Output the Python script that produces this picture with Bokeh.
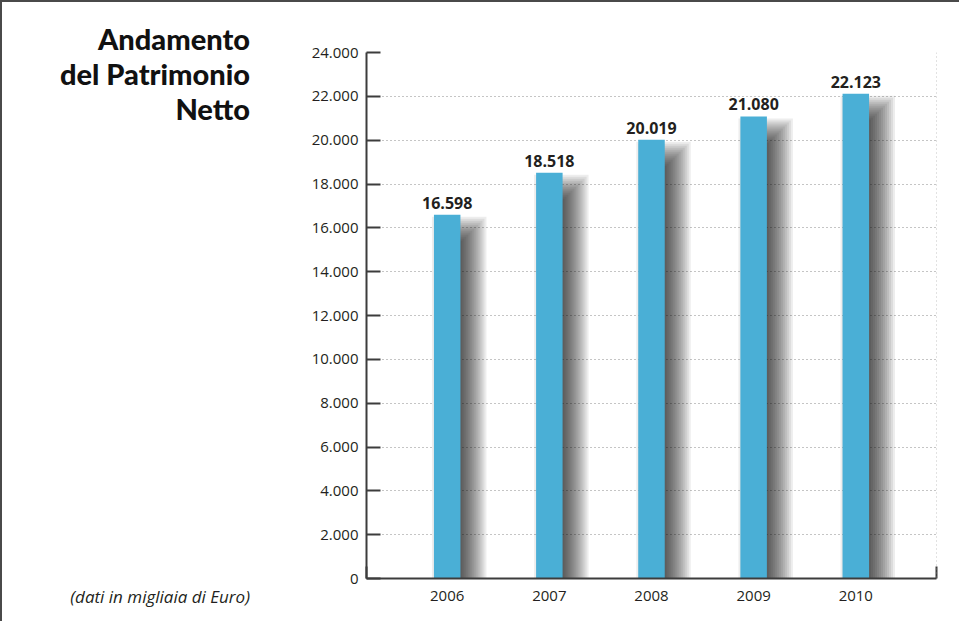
from bokeh.plotting import figure
from bokeh.layouts import row
from bokeh.models import Range1d, FixedTicker, Span, LabelSet, ColumnDataSource, Div
from bokeh.core.properties import value
from bokeh.embed import file_html
from bokeh.resources import INLINE

# ---- data ----
years = [2006, 2007, 2008, 2009, 2010]
year_labels = ["2006", "2007", "2008", "2009", "2010"]
patrimonio = [16598, 18518, 20019, 21080, 22123]
value_labels = ["16.598", "18.518", "20.019", "21.080", "22.123"]
y_ticks = [0, 2000, 4000, 6000, 8000, 10000, 12000, 14000, 16000, 18000, 20000, 22000, 24000]
y_tick_labels = ["0", "2.000", "4.000", "6.000", "8.000", "10.000", "12.000",
                 "14.000", "16.000", "18.000", "20.000", "22.000", "24.000"]
title_lines = ["Andamento", "del Patrimonio", "Netto"]
note_text = "(dati in migliaia di Euro)"

# ---- layout ----
H = 619
LW = 260                  # left panel (title + note)
W = 957 - LW              # chart figure
ML, MR, MT, MB = 364 - LW, 23, 50, 43
X0, X1 = 2005.21, 2010.79
Y0, Y1 = 0, 24000
FW, FH = W - ML - MR, H - MT - MB
xpx = FW / (X1 - X0)      # px per x unit
ypx = FH / (Y1 - Y0)      # px per y unit

DARK = "#3c3c3c"
TXT = "#231f20"
BAR = "#4aafd6"
FONT = "Open Sans"

# ---------- left panel with title and note ----------
title_html = "<br>".join(title_lines)
html = (
    f'<div style="position:relative;width:{LW}px;height:{H}px;background:white;">'
    f'<div style="position:absolute;right:12px;top:19px;text-align:right;'
    f'font-family:Lato,sans-serif;font-weight:900;font-size:29px;line-height:35px;'
    f'color:#111111;white-space:nowrap;">{title_html}</div>'
    f'<div style="position:absolute;right:12px;top:583px;text-align:right;'
    f'font-family:\'Open Sans\',sans-serif;font-style:italic;font-size:17px;line-height:23px;'
    f'color:{TXT};white-space:nowrap;">{note_text}</div>'
    f'</div>'
)
left = Div(text=html, width=LW, height=H, margin=0)

# ---------- chart ----------
p = figure(width=W, height=H, x_range=Range1d(X0, X1), y_range=Range1d(Y0, Y1),
           output_backend="svg", toolbar_location=None,
           min_border_left=ML, min_border_right=MR, min_border_top=MT, min_border_bottom=MB)
p.outline_line_color = None

# y axis
p.yaxis.ticker = FixedTicker(ticks=y_ticks, minor_ticks=[])
p.yaxis.major_label_overrides = {t: l for t, l in zip(y_ticks, y_tick_labels)}
p.yaxis.axis_line_color = DARK
p.yaxis.axis_line_width = 2
p.yaxis.major_tick_in = 14
p.yaxis.major_tick_out = 0
p.yaxis.major_tick_line_color = DARK
p.yaxis.major_tick_line_width = 2
p.yaxis.major_label_text_font = FONT
p.yaxis.major_label_text_font_size = "15px"
p.yaxis.major_label_text_color = TXT
p.yaxis.major_label_standoff = 8

# x axis
p.xaxis.ticker = FixedTicker(ticks=years, minor_ticks=[X0, X1])
p.xaxis.major_label_overrides = {t: l for t, l in zip(years, year_labels)}
p.xaxis.axis_line_color = DARK
p.xaxis.axis_line_width = 2
p.xaxis.major_tick_in = 0
p.xaxis.major_tick_out = 0
p.xaxis.minor_tick_in = 12
p.xaxis.minor_tick_out = 0
p.xaxis.minor_tick_line_color = DARK
p.xaxis.minor_tick_line_width = 2
p.xaxis.major_label_text_font = FONT
p.xaxis.major_label_text_font_size = "15px"
p.xaxis.major_label_text_color = TXT
p.xaxis.major_label_standoff = 12

# grid
p.xgrid.visible = False
p.ygrid.ticker = FixedTicker(ticks=y_ticks[1:])
p.ygrid.grid_line_color = "#8a8a8a"
p.ygrid.grid_line_dash = "1 3"
p.ygrid.grid_line_width = 1
p.add_layout(Span(location=X1, dimension="height", line_color="#8a8a8a",
                  line_dash="1 3", line_width=1))

# bars with soft drop shadow
bw = 26.5 / xpx
dx, dy = 12, 16
for s in range(-14, 16, 2):
    p.quad(left=[x - bw / 2 + (dx - s) / xpx for x in years],
           right=[x + bw / 2 + (dx + s) / xpx for x in years],
           top=[v - (dy - s) / ypx for v in patrimonio],
           bottom=[0] * len(years),
           fill_color="black", fill_alpha=0.07, line_color=None)

src = ColumnDataSource(dict(x=years, top=patrimonio, lab=value_labels))
p.vbar(x="x", top="top", width=bw, source=src, fill_color=BAR, line_color=None)

p.add_layout(LabelSet(x="x", y="top", text="lab", source=src, y_offset=6,
                      text_align="center", text_baseline="alphabetic",
                      text_font=value(FONT), text_font_style="bold", text_font_size="16px",
                      text_color=TXT))

layout = row(left, p, spacing=0)
layout.styles = {"border-left": "2px solid #4a4a4a", "border-top": "2px solid #4a4a4a"}

open("out.html", "w").write(file_html(layout, INLINE))
